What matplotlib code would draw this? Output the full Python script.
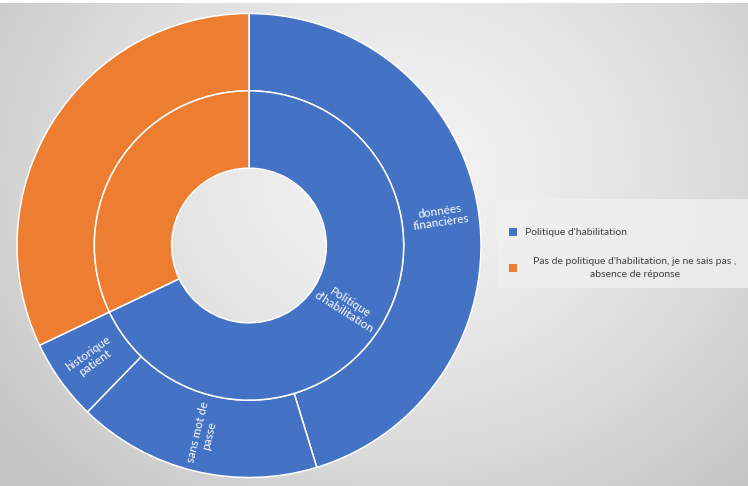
import numpy as np
import matplotlib
matplotlib.use("Agg")
import matplotlib.pyplot as plt
from matplotlib.patches import Rectangle

# ---- data ----
inner_labels = ["Politique\nd'habilitation", ""]
inner_values = [36, 17]
outer_labels = ["données\nfinancières", "sans mot de\npasse", "historique\npatient", ""]
outer_values = [24, 9, 3, 17]
legend_labels = ["Politique d'habilitation",
                 "Pas de politique d'habilitation, je ne sais pas ,\nabsence de réponse"]

BLUE = "#4472C4"
ORANGE = "#ED7D31"
inner_colors = [BLUE, ORANGE]
outer_colors = [BLUE, BLUE, BLUE, ORANGE]

W, H = 748, 486
fig = plt.figure(figsize=(W / 100, H / 100), dpi=100)

# background radial gradient
bg = fig.add_axes([0, 0, 1, 1])
yy, xx = np.mgrid[0:H, 0:W]
d = np.sqrt((xx - 400) ** 2 + ((yy - 170) / 0.85) ** 2)
t = np.clip(d / 500, 0, 1)
v = 0.955 - (t ** 1.4) * (0.955 - 0.775)
img = np.dstack([v, v, v])
img[0:4, :, :] = 1.0
bg.imshow(img, extent=[0, W, H, 0], aspect="auto", interpolation="bilinear")
bg.set_xlim(0, W)
bg.set_ylim(H, 0)
bg.axis("off")

# legend box
bg.add_patch(Rectangle((497, 199), 251, 89, facecolor="#f0f0f0", edgecolor="none", alpha=0.8))
bg.add_patch(Rectangle((509, 228), 8, 8, facecolor=BLUE, edgecolor="none"))
bg.add_patch(Rectangle((509, 264), 8, 8, facecolor=ORANGE, edgecolor="none"))
bg.text(525, 232, legend_labels[0], fontsize=7.5, color="#404040", family="Lato",
        va="center", ha="left")
bg.text(635, 268, legend_labels[1], fontsize=7.5, color="#404040", family="Lato",
        va="center", ha="center", multialignment="center", linespacing=1.5)

# sunburst
cx, cy, R = 249, 245.5, 232
ax = fig.add_axes([(cx - R) / W, (H - cy - R) / H, 2 * R / W, 2 * R / H])
ax.set_aspect("equal")
wp = dict(edgecolor="white", linewidth=1.1)
w_out, _ = ax.pie(outer_values, radius=1.0, colors=outer_colors, startangle=90,
                  counterclock=False, wedgeprops=dict(width=1 / 3, **wp))
w_in, _ = ax.pie(inner_values, radius=2 / 3, colors=inner_colors, startangle=90,
                 counterclock=False, wedgeprops=dict(width=1 / 3, **wp))
ax.set_xlim(-1, 1)
ax.set_ylim(-1, 1)


def label(wedge, text, r):
    if not text:
        return
    ang = (wedge.theta1 + wedge.theta2) / 2.0
    a = np.deg2rad(ang)
    x, y = r * np.cos(a), r * np.sin(a)
    rot = ang % 360
    if 90 < rot < 270:
        rot -= 180
    ax.text(x, y, text, rotation=rot, rotation_mode="anchor", ha="center", va="center",
            color="white", fontsize=8.5, family="Lato", linespacing=1.1)


for w, t in zip(w_out, outer_labels):
    label(w, t, 0.835)
for w, t in zip(w_in, inner_labels):
    label(w, t, 0.5)

fig.savefig("out.png", dpi=100)
